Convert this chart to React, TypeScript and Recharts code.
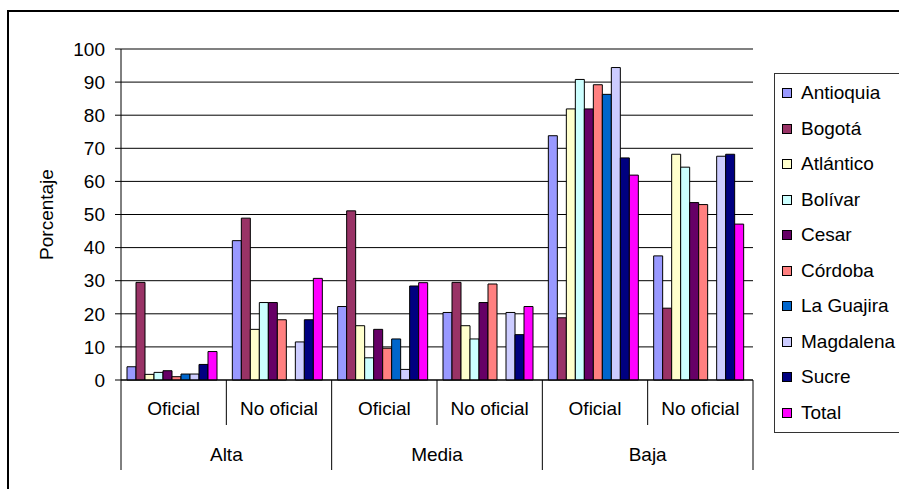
import React from "react";
import { Bar, BarChart, CartesianGrid, Legend, ReferenceLine, XAxis, YAxis } from "recharts";

const niveles = ["Alta", "Media", "Baja"];
const sectores = ["Oficial", "No oficial"];

const antioquia = [4, 42.1, 22.2, 20.4, 73.8, 37.5];
const bogota = [29.5, 48.9, 51.1, 29.5, 18.8, 21.7];
const atlantico = [1.7, 15.3, 16.4, 16.4, 81.9, 68.2];
const bolivar = [2.3, 23.4, 6.7, 12.4, 90.8, 64.3];
const cesar = [2.8, 23.4, 15.3, 23.4, 81.9, 53.6];
const cordoba = [1, 18.2, 9.6, 29, 89.2, 53];
const guajira = [1.8, null, 12.4, null, 86.3, null];
const magdalena = [1.8, 11.5, 3.2, 20.4, 94.4, 67.6];
const sucre = [4.7, 18.2, 28.4, 13.7, 67.1, 68.2];
const total = [8.6, 30.7, 29.4, 22.2, 61.9, 47.1];

const yTicks = [0, 10, 20, 30, 40, 50, 60, 70, 80, 90, 100];

const series = [
  { key: "antioquia", name: "Antioquia", color: "#9999ff", values: antioquia },
  { key: "bogota", name: "Bogotá", color: "#993366", values: bogota },
  { key: "atlantico", name: "Atlántico", color: "#ffffcc", values: atlantico },
  { key: "bolivar", name: "Bolívar", color: "#ccffff", values: bolivar },
  { key: "cesar", name: "Cesar", color: "#660066", values: cesar },
  { key: "cordoba", name: "Córdoba", color: "#ff8080", values: cordoba },
  { key: "guajira", name: "La Guajira", color: "#0066cc", values: guajira },
  { key: "magdalena", name: "Magdalena", color: "#ccccff", values: magdalena },
  { key: "sucre", name: "Sucre", color: "#000080", values: sucre },
  { key: "total", name: "Total", color: "#ff00ff", values: total },
];

const rows = niveles.flatMap((nivel, i) =>
  sectores.map((sector, j) => {
    const row: Record<string, any> = { id: `${nivel}-${sector}`, nivel, sector };
    series.forEach((s) => {
      row[s.key] = s.values[i * 2 + j];
    });
    return row;
  })
);

const FONT = "Arial, 'Liberation Sans', sans-serif";
const W = 899;
const H = 489;

function CategoryTick(props: any) {
  const { x, y, payload } = props;
  const idx = payload.index;
  const half = payload.offset || 52.7;
  const row = rows[idx];
  const left = x - half;
  const right = x + half;
  const firstOfGroup = idx % 2 === 0;
  const last = idx === rows.length - 1;
  return (
    <g>
      <line x1={left} y1={y} x2={left} y2={y + (firstOfGroup ? 90 : 45)} stroke="#000" />
      {last && <line x1={right} y1={y} x2={right} y2={y + 90} stroke="#000" />}
      <text x={x} y={y + 35} textAnchor="middle" fontSize={19} fontFamily={FONT} fill="#000">
        {row.sector}
      </text>
      {!firstOfGroup && (
        <text x={left} y={y + 81} textAnchor="middle" fontSize={19} fontFamily={FONT} fill="#000">
          {row.nivel}
        </text>
      )}
    </g>
  );
}

function LegendBox({ payload }: any) {
  return (
    <div
      style={{
        border: "1px solid #333",
        width: 140,
        padding: "1.5px 0",
        background: "#fff",
        fontFamily: FONT,
        fontSize: 19,
      }}
    >
      {(payload || []).map((p: any) => (
        <div key={p.value} style={{ display: "flex", alignItems: "center", height: 35.5 }}>
          <span
            style={{
              display: "inline-block",
              width: 8,
              height: 8,
              marginLeft: 7,
              marginRight: 9,
              background: p.color,
              border: "1px solid #000",
            }}
          />
          <span style={{ color: "#000" }}>{p.value}</span>
        </div>
      ))}
    </div>
  );
}

const legendOrder = (item: any) => series.findIndex((s) => s.name === item.value);

export default function App() {
  return (
    <div style={{ position: "absolute", left: 0, top: 0, width: W, height: H, overflow: "hidden", background: "#fff" }}>
      <div
        style={{
          position: "absolute",
          left: 7,
          top: 10,
          width: 1000,
          height: 1000,
          border: "2px solid #000",
        }}
      />
      <BarChart
        width={W}
        height={H}
        data={rows}
        margin={{ top: 49, right: 146, left: 0, bottom: 0 }}
        barCategoryGap={6}
        barGap={0}
        style={{ position: "absolute", left: 0, top: 0 }}
      >
        <CartesianGrid yAxisId="l" vertical={false} stroke="#000" />
        <ReferenceLine yAxisId="l" y={100} stroke="#808080" strokeWidth={1.5} />
        <XAxis
          dataKey="id"
          height={109}
          interval={0}
          tickLine={false}
          tickSize={0}
          tickMargin={0}
          axisLine={{ stroke: "#000" }}
          tick={<CategoryTick />}
        />
        <YAxis
          yAxisId="l"
          width={121}
          domain={[0, 100]}
          ticks={yTicks}
          interval={0}
          tickSize={6}
          tickMargin={10}
          axisLine={{ stroke: "#000" }}
          tickLine={{ stroke: "#000" }}
          tick={{ fill: "#000", fontSize: 19, fontFamily: FONT }}
          label={{
            value: "Porcentaje",
            content: (p: any) => {
              const vb = p.viewBox;
              const cx = vb.x + 46;
              const cy = vb.y + vb.height / 2;
              return (
                <text
                  x={cx}
                  y={cy}
                  transform={`rotate(-90 ${cx} ${cy})`}
                  textAnchor="middle"
                  dominantBaseline="central"
                  fontSize={19}
                  fontFamily={FONT}
                  fill="#000"
                >
                  Porcentaje
                </text>
              );
            },
          }}
        />
        <YAxis
          yAxisId="r"
          orientation="right"
          width={0}
          domain={[0, 100]}
          tick={false}
          tickLine={false}
          axisLine={{ stroke: "#808080", strokeWidth: 1.5 }}
        />
        {series.map((s) => (
          <Bar
            key={s.key}
            yAxisId="l"
            dataKey={s.key}
            name={s.name}
            fill={s.color}
            stroke="#000"
            strokeWidth={1}
            isAnimationActive={false}
          />
        ))}
        <Legend
          layout="vertical"
          align="center"
          verticalAlign="middle"
          itemSorter={legendOrder}
          content={<LegendBox />}
          wrapperStyle={{ left: 774, top: 73, width: 140 }}
        />
      </BarChart>
    </div>
  );
}
